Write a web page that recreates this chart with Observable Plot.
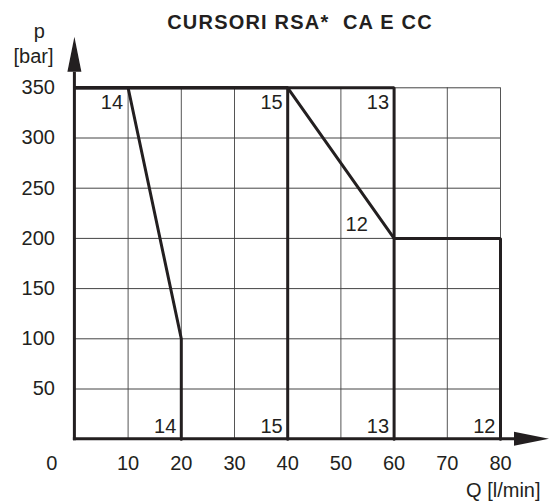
<!DOCTYPE html>
<html>
<head>
<meta charset="utf-8">
<script src="https://cdn.jsdelivr.net/npm/d3@7"></script>
<script src="https://cdn.jsdelivr.net/npm/@observablehq/plot@0.6"></script>
<style>
  html, body { margin: 0; padding: 0; background: #fff; }
  #chart svg { display: block; }
</style>
</head>
<body>
<div id="chart"></div>
<script>
// ---- data ----
const title = "CURSORI RSA*  CA E CC";
const yLabelTop = "p";
const yLabelUnit = "[bar]";
const xLabel = "Q [l/min]";

const flowTicks = [10, 20, 30, 40, 50, 60, 70, 80];          // Q [l/min]
const pressTicks = [50, 100, 150, 200, 250, 300, 350];        // p [bar]
const originLabel = "0";

// operating limits (Q, p) for each spool
const curve14Q = [0, 10, 20, 20];
const curve14P = [350, 350, 100, 0];
const curve15Q = [0, 40, 40];
const curve15P = [350, 350, 0];
const curve13Q = [0, 60, 60];
const curve13P = [350, 350, 0];
const curve12Q = [0, 40, 60, 80, 80];
const curve12P = [350, 350, 200, 200, 0];

// curve labels: name, Q, p where they are written
const labelNames = ["14", "15", "13", "12", "14", "15", "13", "12"];
const labelQ     = [10,   40,   60,   56,   20,   40,   60,   80];
const labelP     = [335,  335,  335,  214,  13,   13,   13,   13];

// ---- build tables ----
const toPts = (qs, ps) => qs.map((q, i) => ({q, p: ps[i]}));
const curves = [
  toPts(curve14Q, curve14P),
  toPts(curve15Q, curve15P),
  toPts(curve13Q, curve13P),
  toPts(curve12Q, curve12P)
];
const labels = labelNames.map((t, i) => ({t, q: labelQ[i], p: labelP[i]}));

const ink = "#231f20";
const font = "'Liberation Sans', Arial, Helvetica, sans-serif";
const txt = {fill: ink, fontSize: 20, lineAnchor: "middle"};

function axesWithArrows(index, scales, values, dimensions) {
  const {width, marginTop} = dimensions;
  const x0 = scales.x(0), y0 = scales.y(0);
  const len = 35, half = 7;
  const yTip = marginTop - 50.6, yBase = yTip + len;
  const xTip = width, xBase = xTip - len;
  const g = d3.create("svg:g");
  g.append("line").attr("x1", x0).attr("x2", x0).attr("y1", y0 + 1.5).attr("y2", yBase)
    .attr("stroke", ink).attr("stroke-width", 3);
  g.append("line").attr("x1", x0 - 1.5).attr("x2", xBase).attr("y1", y0).attr("y2", y0)
    .attr("stroke", ink).attr("stroke-width", 3);
  g.append("path").attr("d", `M${x0},${yTip}L${x0 + half},${yBase}L${x0 - half},${yBase}Z`).attr("fill", ink);
  g.append("path").attr("d", `M${xTip},${y0}L${xBase},${y0 - half}L${xBase},${y0 + half}Z`).attr("fill", ink);
  return g.node();
}

const chart = Plot.plot({
  width: 549,
  height: 504,
  marginTop: 87.3,
  marginBottom: 65.3,
  marginLeft: 74.4,
  marginRight: 49,
  x: {domain: [0, 80], axis: null},
  y: {domain: [0, 350], axis: null},
  style: {fontFamily: font, fontSize: "20px", color: ink, background: "#fff", overflow: "visible"},
  marks: [
    // grid
    Plot.ruleX(flowTicks, {x: d => d, y1: 0, y2: 350, stroke: "#555", strokeWidth: 1}),
    Plot.ruleY(pressTicks, {y: d => d, x1: 0, x2: 80, stroke: "#444", strokeWidth: 1}),
    // limit curves
    ...curves.map(c => Plot.line(c, {x: "q", y: "p", stroke: ink, strokeWidth: 3, strokeLinejoin: "miter"})),
    // axes + arrows
    axesWithArrows,
    // tick labels
    Plot.text(pressTicks, {...txt, y: d => d, text: d => String(d), frameAnchor: "left", textAnchor: "end", dx: -20}),
    Plot.text(flowTicks, {...txt, x: d => d, text: d => String(d), frameAnchor: "bottom", textAnchor: "middle", dy: 24}),
    Plot.text([originLabel], {...txt, text: d => d, frameAnchor: "bottom-left", textAnchor: "middle", dx: -23, dy: 24}),
    // curve labels
    Plot.text(labels, {...txt, x: "q", y: "p", text: "t", textAnchor: "end", dx: -5}),
    // axis titles
    Plot.text([yLabelTop], {...txt, text: d => d, frameAnchor: "top-left", textAnchor: "middle", dx: -35.7, dy: -56.2}),
    Plot.text([yLabelUnit], {...txt, text: d => d, frameAnchor: "top-left", textAnchor: "middle", dx: -41.4, dy: -31}),
    Plot.text([xLabel], {...txt, text: d => d, frameAnchor: "bottom-right", textAnchor: "end", dx: 40, dy: 51.5}),
    // title
    Plot.text([title], {...txt, text: d => d, frameAnchor: "top", textAnchor: "middle", dx: 12.3, dy: -65, fontWeight: "bold"})
  ]
});
chart.querySelectorAll("text").forEach(t => {
  if (t.textContent === title) t.setAttribute("letter-spacing", "1.2");
});
document.getElementById("chart").append(chart);
</script>
</body>
</html>
